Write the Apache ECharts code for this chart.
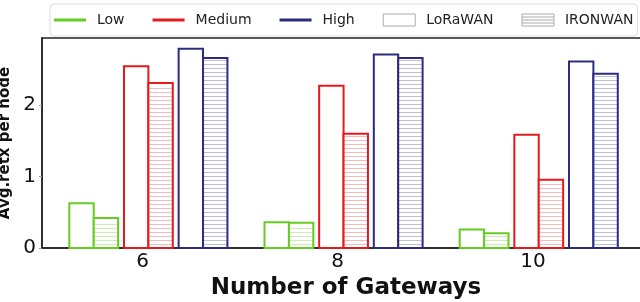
<!DOCTYPE html>
<html><head><meta charset="utf-8">
<script src="https://cdn.jsdelivr.net/npm/echarts@6/dist/echarts.min.js"></script>
<style>html,body{margin:0;padding:0;background:#fff}#c{width:640px;height:302px}</style>
</head><body><div id="c"></div><script>
// ---- data ----
const gateways = [6, 8, 10];
const lowLoRaWAN = [0.625, 0.36, 0.26];
const lowIRONWAN = [0.42, 0.355, 0.205];
const mediumLoRaWAN = [2.545, 2.27, 1.585];
const mediumIRONWAN = [2.31, 1.60, 0.955];
const highLoRaWAN = [2.79, 2.71, 2.61];
const highIRONWAN = [2.66, 2.66, 2.44];
const yTickValues = [0, 1, 2];
const xTickValues = [6, 8, 10];
const levelNames = ['Low', 'Medium', 'High'];
const protocolNames = ['LoRaWAN', 'IRONWAN'];

// ---- styles ----
const colors = { Low: '#66cc22', Medium: '#e41a1c', High: '#2c2c82' };
const hatchColors = { Low: 'rgba(102,204,34,0.35)', Medium: 'rgba(228,26,28,0.3)', High: 'rgba(44,44,130,0.3)' };
const barWidthUnits = 0.25;
const barLeftOffsets = [-0.75, -0.50, -0.19, 0.06, 0.37, 0.62];

const barSets = [
  { level: 'Low', proto: 'LoRaWAN', values: lowLoRaWAN },
  { level: 'Low', proto: 'IRONWAN', values: lowIRONWAN },
  { level: 'Medium', proto: 'LoRaWAN', values: mediumLoRaWAN },
  { level: 'Medium', proto: 'IRONWAN', values: mediumIRONWAN },
  { level: 'High', proto: 'LoRaWAN', values: highLoRaWAN },
  { level: 'High', proto: 'IRONWAN', values: highIRONWAN }
];

function makeRender(idx, set) {
  return function (params, api) {
    const x = api.value(0), v = api.value(1);
    const off = barLeftOffsets[idx];
    const p0 = api.coord([x + off, 0]);
    const p1 = api.coord([x + off + barWidthUnits, v]);
    const left = p0[0], right = p1[0], top = p1[1], bottom = p0[1];
    const children = [{
      type: 'rect',
      shape: { x: left, y: top, width: right - left, height: bottom - top },
      style: { fill: '#ffffff', stroke: null }
    }];
    if (set.proto === 'IRONWAN') {
      for (let yy = bottom - 4; yy > top + 2; yy -= 4) {
        children.push({
          type: 'line',
          shape: { x1: left, y1: Math.round(yy) + 0.5, x2: right, y2: Math.round(yy) + 0.5 },
          style: { stroke: hatchColors[set.level], lineWidth: 1 }
        });
      }
    }
    children.push({
      type: 'rect',
      shape: { x: left, y: top, width: right - left, height: bottom - top },
      style: { fill: 'none', stroke: colors[set.level], lineWidth: 2 }
    });
    return { type: 'group', children: children };
  };
}

const series = barSets.map((s, i) => ({
  type: 'custom',
  name: s.level + ' ' + s.proto,
  renderItem: makeRender(i, s),
  data: gateways.map((g, j) => [g, s.values[j]]),
  clip: false,
  z: 3
}));

// legend-only series
levelNames.forEach(n => series.push({
  type: 'line', name: n, data: [], symbol: 'none',
  itemStyle: { color: colors[n] }, lineStyle: { color: colors[n], width: 3 }
}));
protocolNames.forEach(n => series.push({
  type: 'custom', name: n, data: [], renderItem: () => null,
  itemStyle: { color: '#ffffff', borderColor: '#aaaaaa', borderWidth: 1 }
}));

const lineIcon = 'path://M0,0H32V3H0Z';
const plainIcon = 'path://M0,0H32V12H0Z';
const hatchIcon = 'path://M0,0H32V12H0Z M0,3H32 M0,6H32 M0,9H32';

const option = {
  animation: false,
  backgroundColor: '#ffffff',
  textStyle: { fontFamily: 'DejaVu Sans' },
  grid: { left: 42, right: -10, top: 38, bottom: 54, show: true, borderColor: '#222', borderWidth: 1.5, outerBoundsMode: 'none', containLabel: false },
  legend: {
    left: 50, top: 4, width: 900,
    padding: [9, 4, 9, 4],
    itemGap: 28, itemWidth: 32, itemHeight: 12,
    symbolKeepAspect: true,
    borderColor: '#dddddd', borderWidth: 1, borderRadius: 4, backgroundColor: '#ffffff',
    textStyle: { fontFamily: 'DejaVu Sans', fontSize: 14, color: '#222', padding: [0, 0, 0, 6] },
    data: [
      { name: 'Low', icon: lineIcon, itemStyle: { color: colors.Low, borderWidth: 0 } },
      { name: 'Medium', icon: lineIcon, itemStyle: { color: colors.Medium, borderWidth: 0 } },
      { name: 'High', icon: lineIcon, itemStyle: { color: colors.High, borderWidth: 0 } },
      { name: 'LoRaWAN', icon: plainIcon, itemStyle: { color: '#ffffff', borderColor: '#aaaaaa', borderWidth: 1 } },
      { name: 'IRONWAN', icon: hatchIcon, itemStyle: { color: '#ffffff', borderColor: '#aaaaaa', borderWidth: 1 } }
    ]
  },
  xAxis: {
    type: 'value', min: 4.97, max: 11.2,
    name: 'Number of Gateways', nameLocation: 'middle', nameGap: 23,
    nameTextStyle: { fontFamily: 'DejaVu Sans', fontWeight: 'bold', fontSize: 23, color: '#111' },
    axisLine: { show: true, onZero: false, lineStyle: { color: '#222', width: 1.5 } },
    axisTick: { show: false },
    splitLine: { show: false },
    axisLabel: { customValues: xTickValues, fontSize: 20, color: '#111', margin: 4, fontFamily: 'DejaVu Sans' }
  },
  yAxis: {
    type: 'value', min: 0, max: 2.94, interval: 1,
    name: 'Avg.retx per node', nameLocation: 'middle', nameGap: 21,
    nameTextStyle: { fontFamily: 'DejaVu Sans', fontWeight: 'bold', fontSize: 15, color: '#111' },
    axisLine: { show: true, lineStyle: { color: '#222', width: 1.5 } },
    axisTick: { show: true, length: 3, customValues: yTickValues, lineStyle: { color: '#999' } },
    splitLine: { show: false },
    axisLabel: { customValues: yTickValues, fontSize: 20, color: '#111', margin: 6, fontFamily: 'DejaVu Sans' }
  },
  series: series
};
const chart = echarts.init(document.getElementById('c'), null, { renderer: 'canvas' });
chart.setOption(option);
</script></body></html>
